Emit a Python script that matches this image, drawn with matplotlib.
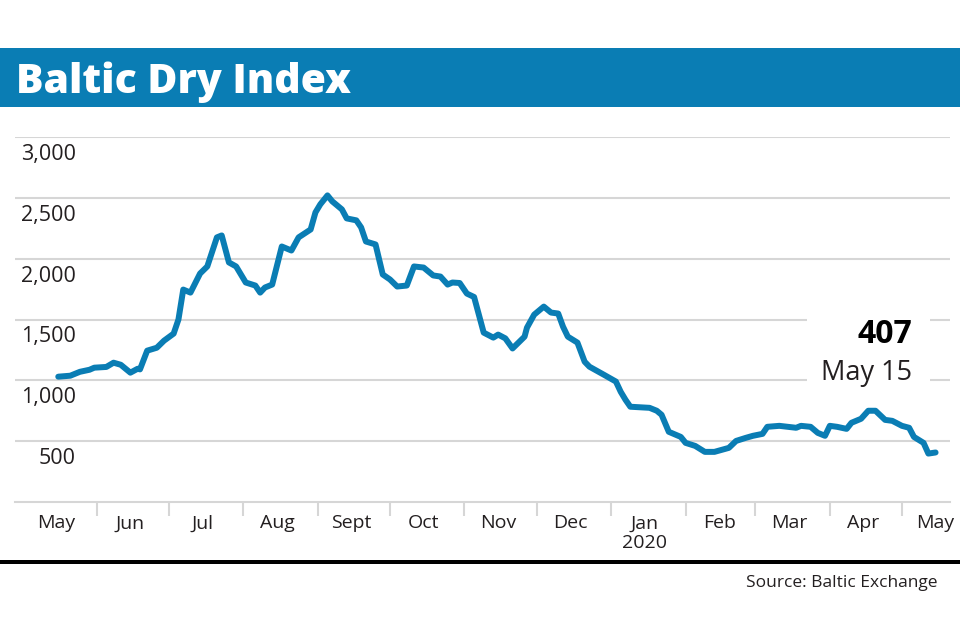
import matplotlib
matplotlib.use("Agg")
import matplotlib.pyplot as plt
import matplotlib.transforms as mtransforms
from matplotlib.patches import Rectangle
import pandas as pd

# ---------------------------------------------------------------------------
# Data
# ---------------------------------------------------------------------------

dates = [
    "2019-05-16", "2019-05-21", "2019-05-25", "2019-05-29", "2019-05-31",
    "2019-06-05", "2019-06-08", "2019-06-11", "2019-06-15", "2019-06-18",
    "2019-06-19", "2019-06-22", "2019-06-26", "2019-06-29", "2019-07-03",
    "2019-07-05", "2019-07-07", "2019-07-10", "2019-07-14", "2019-07-17",
    "2019-07-21", "2019-07-23", "2019-07-26", "2019-07-29", "2019-08-02",
    "2019-08-06", "2019-08-08", "2019-08-10", "2019-08-13", "2019-08-17",
    "2019-08-21", "2019-08-24", "2019-08-29", "2019-08-31", "2019-09-02",
    "2019-09-05", "2019-09-07", "2019-09-11", "2019-09-13", "2019-09-17",
    "2019-09-19", "2019-09-21", "2019-09-25", "2019-09-28", "2019-10-01",
    "2019-10-04", "2019-10-08", "2019-10-11", "2019-10-15", "2019-10-19",
    "2019-10-22", "2019-10-25", "2019-10-27", "2019-10-30", "2019-11-02",
    "2019-11-05", "2019-11-09", "2019-11-13", "2019-11-15", "2019-11-18",
    "2019-11-21", "2019-11-26", "2019-11-27", "2019-11-30", "2019-12-04",
    "2019-12-07", "2019-12-10", "2019-12-12", "2019-12-14", "2019-12-18",
    "2019-12-21", "2019-12-23", "2019-12-29", "2020-01-03", "2020-01-05",
    "2020-01-07", "2020-01-09", "2020-01-17", "2020-01-20", "2020-01-22",
    "2020-01-25", "2020-01-30", "2020-02-01", "2020-02-05", "2020-02-09",
    "2020-02-13", "2020-02-19", "2020-02-22", "2020-02-26", "2020-02-29",
    "2020-03-04", "2020-03-06", "2020-03-11", "2020-03-18", "2020-03-20",
    "2020-03-24", "2020-03-27", "2020-03-30", "2020-04-01", "2020-04-04",
    "2020-04-08", "2020-04-10", "2020-04-14", "2020-04-17", "2020-04-20",
    "2020-04-24", "2020-04-27", "2020-05-01", "2020-05-04", "2020-05-06",
    "2020-05-10", "2020-05-12", "2020-05-15",
]
bdi = [
    1030, 1038, 1070, 1087, 1104,
    1110, 1145, 1128, 1063, 1095,
    1090, 1244, 1268, 1326, 1384,
    1500, 1746, 1721, 1878, 1936,
    2175, 2191, 1969, 1936, 1804,
    1779, 1721, 1763, 1787, 2100,
    2067, 2175, 2240, 2380, 2446,
    2520, 2471, 2405, 2331, 2315,
    2257, 2141, 2117, 1870, 1829,
    1771, 1779, 1936, 1927, 1862,
    1853, 1787, 1804, 1800, 1713,
    1685, 1392, 1351, 1376, 1345,
    1262, 1359, 1433, 1540, 1606,
    1557, 1549, 1441, 1359, 1310,
    1153, 1112, 1046, 990, 906,
    840, 783, 774, 750, 717,
    577, 535, 486, 461, 412,
    412, 445, 502, 527, 544,
    560, 618, 626, 610, 626,
    618, 568, 544, 626, 618,
    601, 651, 684, 750, 750,
    675, 667, 626, 610, 535,
    486, 398, 407,
]

month_starts = pd.date_range("2019-06-01", "2020-05-01", freq="MS")
month_labels = ["May", "Jun", "Jul", "Aug", "Sept", "Oct", "Nov", "Dec",
                "Jan\n2020", "Feb", "Mar", "Apr", "May"]
label_dates = pd.date_range("2019-05-01", "2020-05-01", freq="MS") + pd.Timedelta(days=14)
y_ticks = [500, 1000, 1500, 2000, 2500, 3000]

last_value = "407"
last_date = "May 15"

# ---------------------------------------------------------------------------
# Style
# ---------------------------------------------------------------------------

BLUE = "#0a7db4"
GRID = "#d6d6d6"
TEXT = "#231f20"
plt.rcParams["font.family"] = ["Open Sans", "DejaVu Sans"]

fig = plt.figure(figsize=(9.6, 6.4), dpi=100)
W, H = 960, 640

# header bar and title
fig.add_artist(Rectangle((0, 1 - 107 / H), 1, 59 / H, transform=fig.transFigure,
                         facecolor=BLUE, edgecolor="none"))
fig.text(16 / W, 1 - 93 / H, "Baltic Dry Index", color="white", fontsize=29.5,
         fontweight="heavy", ha="left", va="baseline")

# chart
ax = fig.add_axes([15 / W, 1 - 502 / H, 935 / W, 365 / H])
x = pd.to_datetime(dates)
ax.plot(x, bdi, color=BLUE, lw=4.3, solid_joinstyle="round",
        solid_capstyle="round", zorder=4)

ax.set_ylim(0, 3000)
ax.set_xlim(pd.Timestamp("2019-04-28"), pd.Timestamp("2020-05-21"))
for v in y_ticks:
    ax.axhline(v, color=GRID, lw=1.5, zorder=1)

for side in ["top", "right", "left"]:
    ax.spines[side].set_visible(False)
ax.spines["bottom"].set_color(GRID)
ax.spines["bottom"].set_linewidth(1.5)
ax.set_yticks([])

ax.set_xticks(month_starts)
ax.set_xticklabels([])
ax.tick_params(axis="x", which="major", length=10, width=1.5, color=GRID)
ax.set_xticks(label_dates, minor=True)
ax.set_xticklabels(month_labels, minor=True, fontsize=14, color=TEXT,
                   linespacing=1.1)
ax.tick_params(axis="x", which="minor", length=0, pad=9)

# y labels sit just under each gridline
lab_tr = mtransforms.offset_copy(
    mtransforms.blended_transform_factory(ax.transAxes, ax.transData),
    fig=fig, y=-16.5, units="points")
for v in y_ticks:
    ax.text(0.065, v, f"{v:,}", transform=lab_tr, ha="right", va="baseline",
            fontsize=15.5, color=TEXT, zorder=5)

# annotation of last value with a white box breaking the gridlines
blend = mtransforms.blended_transform_factory(ax.transAxes, ax.transData)
ax.add_patch(Rectangle((0.847, 960), 0.132, 580, transform=blend,
                       facecolor="white", edgecolor="none", zorder=2))
ax.text(0.960, 1310, last_value, transform=blend, ha="right", va="baseline",
        fontsize=23, fontweight="bold", color="black", zorder=5)
ax.text(0.960, 1005, last_date, transform=blend, ha="right", va="baseline",
        fontsize=19.5, color=TEXT, zorder=5)

# bottom rule and source
fig.add_artist(Rectangle((0, 1 - 564 / H), 1, 4 / H, transform=fig.transFigure,
                         facecolor="black", edgecolor="none"))
fig.text(937 / W, 1 - 587 / H, "Source: Baltic Exchange", color=TEXT,
         fontsize=12.5, ha="right", va="baseline")

fig.savefig("out.png", dpi=100)
